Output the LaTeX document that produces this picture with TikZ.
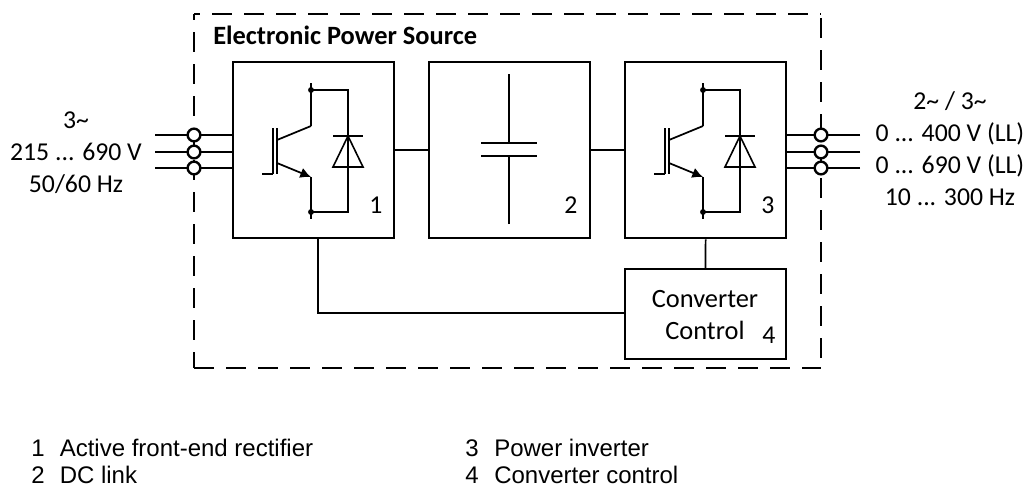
\documentclass[tikz,border=0pt]{standalone}
\usepackage{fontspec}
\setmainfont{Carlito}
\newfontfamily\legendfont{Liberation Sans}
\usetikzlibrary{calc}
\usetikzlibrary{arrows.meta}
\tikzset{
  block/.style={draw, line width=1.7pt, anchor=north west, minimum width=120.75pt, minimum height=132pt, inner sep=0pt},
  ctrlblock/.style={draw, line width=1.5pt, anchor=north west, minimum width=120.75pt, minimum height=67.5pt, inner sep=0pt},
  wire/.style={line width=1.3pt},
  border/.style={line width=1.7pt, dash pattern=on 15pt off 9pt},
  terminal/.style={circle, draw, fill=white, line width=1.8pt, minimum size=9.5pt, inner sep=0pt},
  tag/.style={font=\fontsize{19.3}{23}\selectfont},
  supply/.style={font=\fontsize{19.3}{24}\selectfont, align=center},
  legend/.style={font=\legendfont\fontsize{18}{21}\selectfont, anchor=west, inner sep=0pt},
  pics/igbt/.style={code={
    \draw[line width=1.4pt] (79,22) -- (79,65);
    \draw[line width=1.4pt] (79,116) -- (79,158);
    \draw[line width=1.2pt] (79,29) -- (116,29) -- (116,151) -- (79,151);
    \fill (79,29) circle (2.2pt) (79,151) circle (2.2pt);
    \draw[line width=1.2pt] (41,67) -- (41,113) (45,67) -- (45,113);
    \draw[line width=1.2pt] (30,113) -- (41,113);
    \draw[line width=1.3pt] (45,79) -- (79,65);
    \draw[line width=1.3pt, -{Latex[length=8pt,width=8pt]}] (45,102) -- (79,116);
    \draw[line width=1.3pt] (101,75) -- (131,75);
    \draw[line width=1.2pt] (116,75) -- (101,106) -- (131,106) -- cycle;
  }}
}
\begin{document}
\begin{tikzpicture}[x=0.75pt, y=-0.75pt]
  \useasboundingbox (0,0) rectangle (1029,489);

  \coordinate (nw) at (194,14);
  \coordinate (ne) at (821,14);
  \coordinate (sw) at (194,368);
  \coordinate (se) at (821,368);
  \draw[border, dash phase=10.5pt] (nw) -- (ne);
  \draw[border, dash phase=10.5pt] (nw) -- (sw);
  \draw[border, dash phase=21pt] (ne) -- (se);
  \draw[border] (sw) -- (se);
  \node[font=\bfseries\fontsize{19.8}{24}\selectfont, anchor=west, inner sep=0pt] (title) at (213,35) {Electronic Power Source};

  \node[block] (rectifier) at (232,61) {};
  \node[block] (dclink) at (428,61) {};
  \node[block] (inverter) at (624,61) {};
  \node[ctrlblock] (control) at (624,268) {};
  \node[font=\fontsize{19.8}{24}\selectfont, align=center] (controltext) at (705,315) {Converter\\Control};

  \pic at (rectifier.north west) {igbt};
  \pic at (inverter.north west) {igbt};

  % capacitor
  \coordinate (captop) at (508.7,74);
  \coordinate (capbot) at (508.7,224);
  \draw[line width=1.2pt] (captop) -- (508.7,143);
  \draw[line width=1.2pt] (capbot) -- (508.7,156);
  \draw[line width=1.7pt] (481,143) -- (537,143);
  \draw[line width=1.2pt] (481,156) -- (537,156);

  \node[tag] (num1) at (376,205) {1};
  \node[tag] (num2) at (571,205) {2};
  \node[tag] (num3) at (768,205) {3};
  \node[tag] (num4) at (769,335) {4};

  \draw[wire] (rectifier.east) -- (dclink.west);
  \draw[wire] (dclink.east) -- (inverter.west);
  \draw[wire] (control.north) -- (inverter.south);
  \coordinate (ctrlbus) at (318,313);
  \draw[wire] (rectifier.south -| ctrlbus) -- (ctrlbus) -- (control.west |- ctrlbus);

  % input side
  \foreach \name/\ypos in {a/135,b/152,c/168} {
    \coordinate (in\name) at (155,\ypos);
    \coordinate (out\name) at (860,\ypos);
    \draw[wire] (in\name) -- (in\name -| rectifier.west);
    \draw[wire] (out\name) -- (out\name -| inverter.east);
    \node[terminal] (tin\name) at (194,\ypos) {};
    \node[terminal] (tout\name) at (821,\ypos) {};
  }

  \node[supply] (insupply) at (76,153) {3\char`~\\215 ... 690 V\\50/60 Hz};
  \node[supply] (outsupply) at (950,149) {2\char`~{} / 3\char`~\\0 ... 400 V (LL)\\0 ... 690 V (LL)\\10 ... 300 Hz};

  \node[legend] (leg1) at (31,448) {1};
  \node[legend] (leg1t) at (59.5,448) {Active front-end rectifier};
  \node[legend] (leg2) at (31,475) {2};
  \node[legend] (leg2t) at (59.5,475) {DC link};
  \node[legend] (leg3) at (465,448) {3};
  \node[legend] (leg3t) at (494,448) {Power inverter};
  \node[legend] (leg4) at (465,475) {4};
  \node[legend] (leg4t) at (494,475) {Converter control};
\end{tikzpicture}
\end{document}
